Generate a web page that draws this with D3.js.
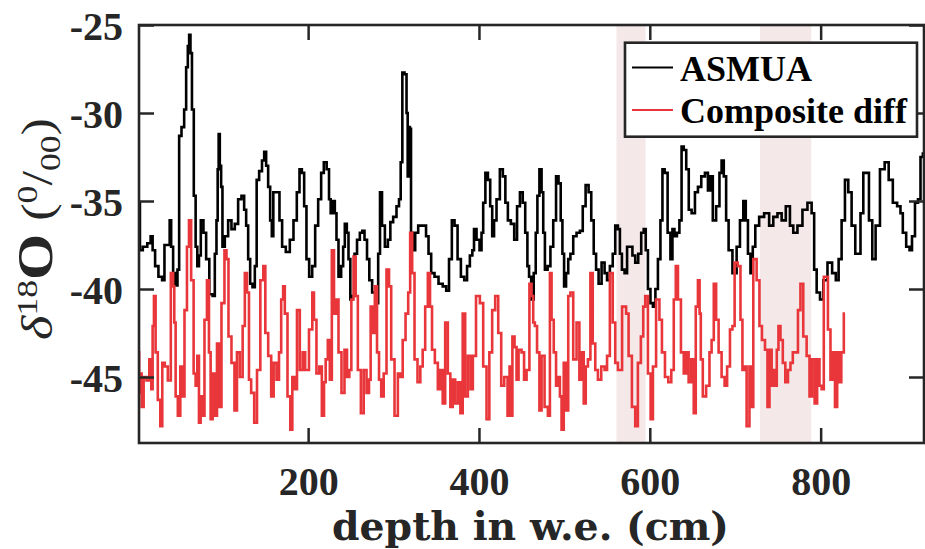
<!DOCTYPE html>
<html><head><meta charset="utf-8">
<script src="https://cdn.jsdelivr.net/npm/d3@7"></script>
<style>body{margin:0;background:#fff}svg{display:block}</style>
</head><body>
<svg id="chart" width="925" height="549"></svg>
<script>
// ---------- data ----------
const asmuaDepth = [2.1,4.1,8.8,14.6,16.6,19.3,22.4,27.1,31.0,32.6,37.3,38.5,40.8,43.1,45.9,48.2,49.8,53.7,56.0,58.4,59.9,61.5,63.0,65.0,67.3,69.3,71.2,73.2,75.5,79.4,81.8,86.8,89.6,91.9,93.5,94.7,95.8,97.4,98.9,100.5,104.4,108.3,112.2,116.1,120.0,123.9,126.3,128.6,131.0,133.3,136.4,138.8,140.7,144.6,147.4,149.7,152.0,154.4,156.7,158.3,160.2,165.3,167.6,171.5,176.2,180.9,184.8,188.7,191.1,194.2,196.5,199.6,202.8,206.7,209.8,213.7,216.8,219.9,223.5,225.4,227.4,230.1,232.4,234.0,237.1,240.2,241.8,244.1,246.5,248.0,250.8,252.7,255.9,258.6,262.5,264.4,267.6,270.3,273.0,276.9,280.8,283.2,285.1,287.9,291.8,294.9,297.6,301.5,305.4,307.4,309.3,311.3,314.4,316.0,317.1,318.3,319.9,321.0,323.8,326.9,330.8,336.7,339.4,342.5,345.6,350.3,355.0,360.1,363.2,366.7,369.8,373.0,376.9,380.8,384.7,387.4,391.3,393.2,395.2,399.1,402.2,403.8,406.1,408.9,412.0,414.3,416.7,418.6,422.5,426.4,429.5,432.3,435.4,439.3,443.2,446.0,449.9,452.6,455.7,457.7,459.6,462.7,465.5,467.4,469.4,472.1,474.5,476.0,478.4,482.3,485.0,488.9,491.6,494.7,496.7,498.7,500.6,503.3,505.7,508.4,512.3,516.2,520.1,522.9,526.8,529.9,533.0,535.7,538.5,541.6,545.5,548.6,551.3,555.2,558.0,561.1,564.2,565.8,568.9,572.0,574.8,577.9,581.4,584.5,588.4,591.5,594.3,596.2,599.4,602.1,605.2,607.9,611.1,613.8,615.8,618.9,622.8,625.5,627.5,630.2,633.3,636.0,638.4,641.1,644.2,647.0,650.9,654.8,657.9,662.6,666.5,669.6,672.4,675.1,680.2,682.9,685.2,688.0,690.7,693.8,699.7,703.6,707.5,711.4,713.3,716.5,719.2,721.9,725.1,730.9,736.8,742.6,746.5,752.4,756.3,762.1,766.0,769.9,775.8,781.6,787.5,791.4,793.4,797.3,801.2,805.1,810.9,816.0,819.5,822.6,826.5,830.4,834.3,838.2,842.9,845.3,848.0,851.9,854.6,858.5,862.4,866.3,872.6,877.3,882.0,887.0,892.1,894.8,897.6,902.7,905.4,908.5,912.4,915.5,918.3,921.0];
const asmuaD18O = [-35.1,-37.8,-37.6,-37.4,-37.0,-37.8,-38.7,-39.3,-39.5,-37.5,-37.5,-36.1,-37.6,-39.1,-39.8,-38.9,-31.3,-30.8,-29.8,-27.4,-26.2,-25.55,-26.6,-29.8,-34.7,-37.6,-38.7,-38.1,-36.1,-36.8,-38.3,-40.3,-40.4,-38.0,-36.1,-33.2,-31.2,-33.0,-34.2,-37.6,-37.0,-36.1,-36.6,-36.3,-34.9,-34.7,-35.5,-36.4,-38.3,-39.7,-39.9,-38.7,-33.8,-33.3,-32.7,-32.2,-33.0,-34.2,-36.1,-37.0,-34.5,-34.5,-36.1,-37.6,-37.9,-37.2,-36.1,-34.5,-33.2,-33.4,-35.3,-38.3,-39.3,-38.7,-36.4,-34.9,-33.4,-32.8,-33.2,-34.9,-35.7,-35.0,-35.7,-37.2,-39.3,-38.7,-37.6,-36.3,-36.8,-38.3,-40.6,-40.4,-38.0,-37.2,-36.8,-36.7,-37.2,-38.3,-39.5,-40.2,-40.8,-38.0,-34.5,-36.4,-37.6,-37.2,-36.2,-35.9,-35.3,-34.9,-32.8,-27.7,-27.8,-30.0,-33.6,-30.8,-30.9,-36.8,-37.8,-36.8,-36.4,-36.4,-37.0,-38.0,-39.1,-39.3,-39.7,-39.85,-40.1,-38.3,-36.1,-36.4,-38.3,-39.3,-39.5,-38.7,-38.1,-37.8,-36.6,-37.2,-37.8,-36.8,-35.1,-33.4,-33.8,-35.3,-37.0,-36.1,-34.9,-33.2,-33.6,-35.1,-36.1,-36.3,-37.2,-35.3,-34.5,-35.1,-36.8,-38.7,-39.3,-40.6,-39.1,-36.8,-34.7,-33.2,-34.5,-36.8,-38.9,-38.7,-37.6,-36.1,-33.6,-34.0,-36.1,-38.0,-39.85,-39.1,-38.3,-38.0,-37.0,-36.8,-36.7,-35.3,-34.1,-34.5,-36.1,-38.0,-38.9,-39.7,-38.5,-39.1,-39.5,-38.7,-38.0,-36.4,-36.6,-38.0,-38.9,-39.1,-37.6,-37.6,-38.1,-38.5,-38.0,-36.8,-36.6,-37.8,-40.0,-40.8,-41.0,-40.0,-38.3,-36.1,-33.2,-33.4,-36.8,-38.3,-36.6,-37.0,-36.8,-36.1,-31.9,-32.1,-33.2,-35.5,-35.7,-34.5,-34.2,-33.6,-33.4,-34.4,-33.6,-36.1,-35.3,-33.4,-32.7,-33.6,-36.1,-37.8,-39.1,-37.6,-36.1,-35.0,-36.1,-38.0,-39.1,-37.6,-36.4,-35.9,-35.7,-36.4,-35.9,-35.7,-36.1,-35.3,-36.4,-36.8,-36.4,-35.5,-35.1,-35.7,-38.9,-40.2,-40.6,-39.5,-38.5,-39.1,-39.5,-38.3,-36.1,-33.8,-34.5,-36.4,-38.0,-38.0,-35.7,-33.4,-33.4,-36.1,-38.3,-36.4,-33.2,-32.8,-33.8,-35.1,-35.3,-35.7,-36.8,-37.6,-37.8,-37.0,-35.1,-34.9,-32.5,-32.3];

const compDepth = [2.1,2.2,4.1,6.1,8.8,12.7,15.4,17.4,18.5,20.5,22.4,25.6,28.3,30.2,34.2,37.3,41.2,42.7,43.9,45.9,49.0,51.7,53.7,56.8,59.5,61.5,64.6,67.3,69.3,71.2,73.2,75.1,77.1,80.2,82.9,84.9,86.8,89.6,91.9,94.7,96.6,100.5,103.6,105.2,108.3,112.2,115.3,118.1,122.0,124.7,127.1,129.8,131.7,134.9,138.8,141.5,146.6,148.5,151.3,155.2,158.3,161.0,164.9,166.9,170.0,171.5,173.9,177.8,180.5,182.5,185.6,188.3,192.2,195.0,198.1,203.9,205.9,207.8,211.7,214.5,217.6,219.6,221.5,224.6,226.2,229.3,231.3,234.0,237.1,241.0,244.1,246.9,249.6,251.6,254.7,256.6,259.8,263.7,266.4,270.3,272.2,274.2,276.9,279.3,282.0,284.0,287.1,289.8,293.7,295.7,298.8,303.5,306.6,309.3,312.1,316.0,318.3,320.6,323.0,326.1,330.0,332.7,335.5,338.6,341.7,343.7,346.4,350.3,353.4,356.2,358.9,362.0,365.1,367.9,370.6,373.7,376.9,379.6,382.3,385.4,388.6,391.7,394.0,399.1,403.0,406.9,410.8,413.5,417.4,420.6,424.5,427.6,431.5,435.4,436.2,438.2,440.1,443.2,444.8,447.9,451.8,453.8,457.7,460.4,462.7,464.3,466.6,469.4,472.1,474.5,479.1,482.3,483.8,486.2,488.9,491.6,494.0,495.5,497.9,500.6,503.3,505.7,508.4,512.3,516.2,518.9,521.3,524.0,526.0,529.1,531.8,534.6,537.7,540.8,545.5,548.6,551.3,555.2,558.0,561.1,564.2,570.9,573.6,576.7,581.4,584.5,587.6,591.5,593.1,596.2,599.4,602.5,604.8,609.9,612.6,615.8,619.7,623.6,626.7,629.4,631.4,634.5,638.4,641.1,643.9,647.0,650.1,652.8,654.8,657.9,658.7,660.7,663.4,668.5,671.2,673.5,676.3,679.0,682.1,686.0,689.1,691.9,695.8,697.7,700.9,704.8,707.5,709.4,711.4,715.3,718.0,719.2,723.1,727.0,729.7,732.9,736.8,738.7,741.5,743.8,745.4,747.7,749.6,751.6,754.3,757.1,760.2,763.3,766.0,768.8,771.9,775.0,777.7,781.6,785.6,788.3,791.4,794.5,797.3,800.0,802.3,805.1,807.0,810.1,812.9,815.6,818.0,820.7,822.6,825.8,828.5];
const compD18O = [-43.6,-45.9,-44.8,-46.7,-45.0,-45.2,-44.0,-45.7,-42.1,-40.4,-43.6,-46.3,-47.8,-44.2,-44.4,-45.2,-39.1,-39.85,-41.9,-46.1,-47.2,-44.4,-46.1,-41.2,-37.6,-36.1,-39.5,-44.8,-45.5,-43.8,-47.6,-46.1,-47.2,-41.75,-39.5,-43.6,-47.4,-44.8,-47.2,-43.1,-46.7,-40.8,-37.8,-38.3,-42.7,-44.2,-46.9,-43.6,-45.0,-42.1,-39.1,-40.2,-45.15,-45.9,-47.6,-44.6,-39.5,-38.7,-42.5,-43.8,-46.1,-44.2,-45.15,-43.6,-40.6,-39.85,-41.4,-46.1,-48.0,-45.0,-45.7,-41.2,-44.6,-43.6,-44.6,-42.3,-40.2,-41.75,-44.8,-44.4,-47.2,-45.3,-44.0,-42.9,-45.15,-37.8,-41.4,-40.6,-43.6,-45.9,-43.45,-45.0,-44.6,-40.6,-38.15,-40.4,-44.6,-47.05,-44.6,-45.9,-45.15,-41.0,-42.5,-39.85,-43.6,-45.15,-46.1,-44.8,-38.9,-39.85,-44.0,-47.2,-44.8,-45.0,-42.9,-41.4,-40.2,-36.8,-39.1,-44.0,-45.3,-44.4,-43.45,-41.0,-39.1,-41.0,-43.45,-44.2,-45.7,-44.6,-46.5,-41.9,-44.8,-46.7,-45.15,-46.5,-45.3,-47.05,-41.4,-46.1,-43.8,-45.7,-43.8,-40.4,-40.8,-44.4,-47.4,-43.6,-41.2,-40.4,-42.5,-45.5,-45.0,-47.2,-44.4,-47.2,-42.7,-43.3,-45.15,-43.45,-43.6,-45.15,-44.6,-39.7,-40.4,-41.9,-42.1,-43.6,-46.9,-43.8,-46.7,-47.2,-39.1,-41.75,-43.6,-45.5,-45.0,-46.1,-48.0,-44.2,-46.9,-40.4,-40.2,-44.0,-41.9,-45.15,-43.6,-46.5,-44.4,-44.0,-39.1,-43.1,-44.6,-45.15,-44.4,-44.6,-43.8,-39.1,-41.9,-44.2,-44.6,-41.0,-41.4,-43.8,-46.7,-47.8,-44.2,-42.7,-41.0,-40.4,-44.8,-47.4,-44.4,-40.6,-41.75,-43.6,-45.0,-45.3,-44.6,-40.6,-38.7,-40.6,-43.6,-44.8,-43.6,-45.3,-44.0,-47.05,-41.0,-39.5,-41.4,-44.0,-46.1,-45.5,-43.6,-42.9,-39.7,-41.75,-43.6,-45.0,-45.5,-44.4,-42.3,-42.1,-38.5,-38.7,-41.75,-44.6,-44.4,-47.8,-44.4,-46.7,-38.3,-39.5,-42.1,-42.9,-43.45,-46.7,-43.45,-45.5,-44.6,-45.5,-43.45,-42.1,-42.9,-44.2,-45.3,-44.6,-44.2,-43.6,-43.6,-41.2,-39.7,-42.7,-43.8,-46.1,-44.0,-46.5,-44.0,-45.5,-45.7,-39.3,-39.3,-42.3,-45.15,-43.6,-46.7,-43.6,-45.3,-43.6,-41.4];

const shadedBands = [[561, 595], [729, 789]];
const xTickValues = [200, 400, 600, 800];
const yTickValues = [-25, -30, -35, -40, -45];
const seriesNames = ["ASMUA", "Composite diff"];
const seriesColors = ["#000000", "#e8363a"];

// ---------- layout ----------
const svg = d3.select("#chart");
const L = 139, R = 924, T = 25, B = 443;
const x = d3.scaleLinear().domain([2, 921]).range([L, R]);
const y = d3.scaleLinear().domain([-48.75, -25]).range([B, T]);
const axisColor = "#262626";
const tickFont = "'Liberation Serif','Times New Roman',serif";

// shaded bands
svg.append("g").selectAll("rect").data(shadedBands).join("rect")
  .attr("x", d => x(d[0])).attr("y", T)
  .attr("width", d => x(d[1]) - x(d[0])).attr("height", B - T)
  .attr("fill", "#f4e8e8");

// lines
svg.append("clipPath").attr("id", "clip").append("rect")
  .attr("x", L).attr("y", T).attr("width", R - L).attr("height", B - T);

const lineGen = d3.line().curve(d3.curveStep).x(d => x(d[0])).y(d => y(d[1]));
const asmua = asmuaDepth.map((d, i) => [d, asmuaD18O[i]]);
const comp = compDepth.map((d, i) => [d, compD18O[i]]);

const plot = svg.append("g").attr("clip-path", "url(#clip)");
plot.append("path").datum(asmua).attr("d", lineGen)
  .attr("fill", "none").attr("stroke", seriesColors[0]).attr("stroke-width", 2.6)
  .attr("stroke-linejoin", "miter");
plot.append("path").datum(comp).attr("d", lineGen)
  .attr("fill", "none").attr("stroke", seriesColors[1]).attr("stroke-width", 2.6)
  .attr("stroke-linejoin", "miter");

// axes (ticks inward, on all four sides)
const tickLen = 15;
const fmt = d => String(d);
const axB = svg.append("g").attr("transform", `translate(0,${B})`)
  .call(d3.axisBottom(x).tickValues(xTickValues).tickSize(-tickLen).tickPadding(tickLen + 10).tickFormat(fmt));
const axT = svg.append("g").attr("transform", `translate(0,${T})`)
  .call(d3.axisTop(x).tickValues(xTickValues).tickSize(-tickLen).tickFormat(""));
const axL = svg.append("g").attr("transform", `translate(${L},0)`)
  .call(d3.axisLeft(y).tickValues(yTickValues).tickSize(-tickLen).tickPadding(16).tickFormat(fmt));
const axR = svg.append("g").attr("transform", `translate(${R},0)`)
  .call(d3.axisRight(y).tickValues(yTickValues).tickSize(-tickLen).tickFormat(""));

[axB, axT, axL, axR].forEach(g => {
  g.select(".domain").remove();
  g.selectAll(".tick line").attr("stroke", axisColor).attr("stroke-width", 2.5);
  g.selectAll("text").attr("fill", axisColor).style("font-family", tickFont)
    .style("font-weight", "bold").style("font-size", "40px");
});
axB.selectAll(".tick text").attr("dy", null).attr("y", 495 - B);
axL.selectAll(".tick text").attr("dy", null).attr("y", 14).attr("x", 123 - L);

// frame
svg.append("rect").attr("x", L).attr("y", T).attr("width", R - L).attr("height", B - T)
  .attr("fill", "none").attr("stroke", axisColor).attr("stroke-width", 2.6);

// x label
const xl = svg.append("text").attr("x", 530.5).attr("y", 540).attr("text-anchor", "middle")
  .attr("fill", axisColor).style("font-family", "'DejaVu Serif',serif").style("font-weight", "bold")
  .style("font-size", "37px").text("depth in w.e. (cm)");
{
  const w = xl.node().getComputedTextLength();
  xl.style("font-size", (37 * 397 / w) + "px");
}

// y label
const yl = svg.append("text").attr("text-anchor", "middle")
  .attr("x", -229).attr("y", 52).attr("fill", axisColor)
  .style("font-family", "'Liberation Serif',serif").style("font-size", "44px");
yl.append("tspan").style("font-style", "italic").text("δ");
yl.append("tspan").attr("dy", -15).style("font-size", "30px").text("18");
yl.append("tspan").attr("dy", 15).style("font-weight", "bold").style("font-size", "50px").text("O");
yl.append("tspan").text(" (");
yl.append("tspan").attr("dy", -15).style("font-size", "30px").text("0");
yl.append("tspan").attr("dy", 15).text("/");
yl.append("tspan").attr("dy", 8).style("font-size", "30px").text("00");
yl.append("tspan").attr("dy", -8).text(")");
{
  const w = yl.node().getComputedTextLength();
  const s = 222 / w;
  yl.attr("transform", `rotate(-90) translate(${-229},52) scale(${s},1) translate(${229},-52)`);
}

// legend
const lg = svg.append("g");
lg.append("rect").attr("x", 625).attr("y", 42.7).attr("width", 292).attr("height", 94)
  .attr("fill", "#fff").attr("stroke", axisColor).attr("stroke-width", 2.6);
const legY = [67.5, 110], legBase = [80.7, 122.7];
seriesNames.forEach((n, i) => {
  lg.append("line").attr("x1", 632).attr("x2", 673).attr("y1", legY[i]).attr("y2", legY[i])
    .attr("stroke", seriesColors[i]).attr("stroke-width", 2.2);
  lg.append("text").attr("x", 680).attr("y", legBase[i]).attr("fill", "#000")
    .style("font-family", tickFont).style("font-weight", "bold").style("font-size", "36px").text(n);
});
</script>
</body></html>
